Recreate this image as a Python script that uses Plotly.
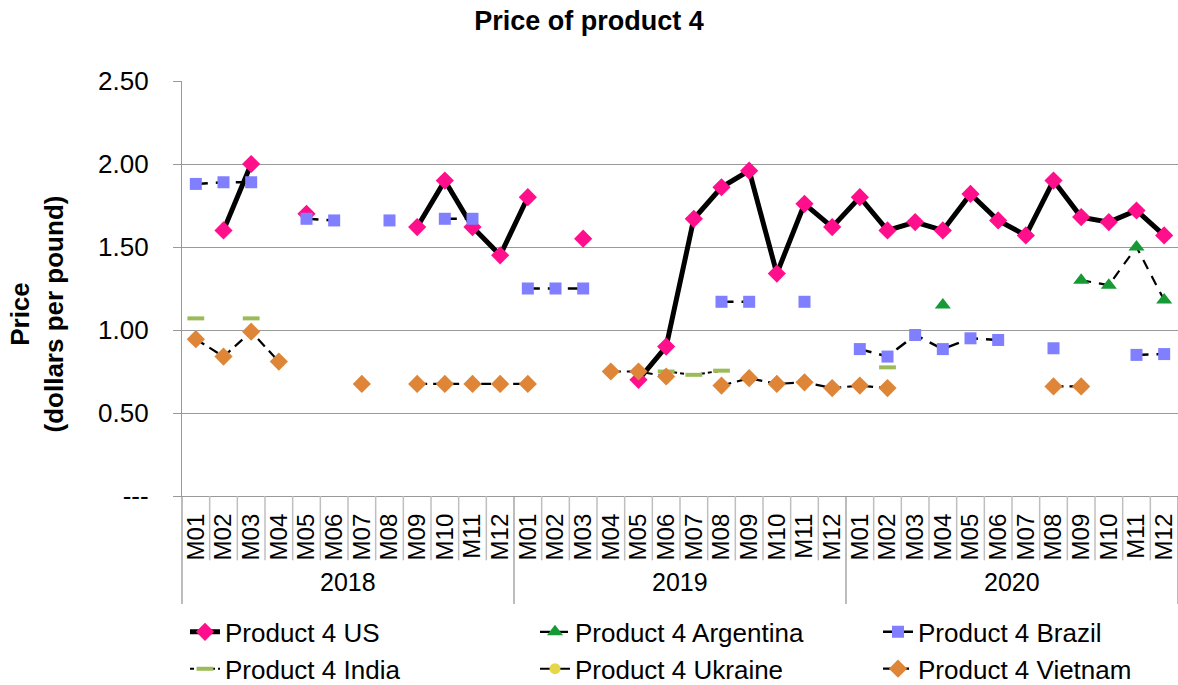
import plotly.graph_objects as go

years = ["2018", "2019", "2020"]
months = ["M01", "M02", "M03", "M04", "M05", "M06", "M07", "M08", "M09", "M10", "M11", "M12"]

us = [None, 1.60, 2.00, None, 1.70, None, None, None, 1.62, 1.90, 1.62, 1.45,
      1.80, None, 1.55, None, 0.70, 0.90, 1.67, 1.86, 1.96, 1.34, 1.76, 1.62,
      1.80, 1.60, 1.65, 1.60, 1.82, 1.66, 1.57, 1.90, 1.68, 1.65, 1.72, 1.57]
argentina = [None] * 12 + [None] * 12 + \
    [None, None, None, 1.15, None, None, None, None, 1.30, 1.27, 1.50, 1.18]
brazil = [1.88, 1.89, 1.89, None, 1.67, 1.66, None, 1.66, None, 1.67, 1.67, None,
          1.25, 1.25, 1.25, None, None, None, None, 1.17, 1.17, None, 1.17, None,
          0.885, 0.84, 0.97, 0.885, 0.95, 0.94, None, 0.89, None, None, 0.85, 0.855]
india = [1.07, None, 1.07, None, None, None, None, None, None, None, None, None,
         None, None, None, None, None, 0.75, 0.73, 0.755, None, None, None, None,
         None, 0.775, None, None, None, None, None, None, None, None, None, None]
ukraine = [None] * 36
vietnam = [0.945, 0.84, 0.99, 0.81, None, None, 0.675, None, 0.675, 0.675, 0.675, 0.675,
           0.675, None, None, 0.75, 0.75, 0.72, None, 0.665, 0.71, 0.675, 0.685, 0.65,
           0.665, 0.65, None, None, None, None, None, 0.66, 0.66, None, None, None]

y_tickvals = [0, 0.5, 1.0, 1.5, 2.0, 2.5]
y_ticktext = ["---", "0.50", "1.00", "1.50", "2.00", "2.50"]

FONT = "Liberation Sans, Arial, sans-serif"
x = list(range(len(us)))
ticklabels = months * len(years)

fig = go.Figure()

fig.add_trace(go.Scatter(x=x, y=us, name="Product 4 US", mode="lines+markers", legend="legend",
                         line=dict(color="black", width=5),
                         marker=dict(symbol="diamond", size=14, color="#FF0F8C")))
fig.add_trace(go.Scatter(x=x, y=argentina, name="Product 4 Argentina", mode="lines+markers", legend="legend2",
                         line=dict(color="black", width=2.2, dash="10px,8px"),
                         marker=dict(symbol="triangle-up", size=14, color="#159A35")))
fig.add_trace(go.Scatter(x=x, y=brazil, name="Product 4 Brazil", mode="lines+markers", legend="legend3",
                         line=dict(color="black", width=2.5, dash="12px,8px"),
                         marker=dict(symbol="square", size=12, color="#7F7FFF")))
fig.add_trace(go.Scatter(x=x, y=india, name="Product 4 India", mode="lines+markers", legend="legend",
                         line=dict(color="black", width=2, dash="4px,3px"),
                         marker=dict(symbol="line-ew", size=12, color="#9BBB59",
                                     line=dict(color="#9BBB59", width=4))))
fig.add_trace(go.Scatter(x=x, y=ukraine, name="Product 4 Ukraine", mode="lines+markers", legend="legend2",
                         line=dict(color="black", width=2),
                         marker=dict(symbol="circle", size=11, color="#E6D64A")))
fig.add_trace(go.Scatter(x=x, y=vietnam, name="Product 4 Vietnam", mode="lines+markers", legend="legend3",
                         line=dict(color="black", width=2.2, dash="10px,6px"),
                         marker=dict(symbol="diamond", size=14, color="#DE8538")))

shapes = []
n = len(x)
for i in range(n + 1):
    is_year = (i % 12 == 0)
    shapes.append(dict(type="line", xref="paper", yref="paper",
                       x0=i / n, x1=i / n, y0=0, y1=-0.26 if is_year else -0.155,
                       line=dict(color="#999999" if is_year else "#BFBFBF", width=1.3 if is_year else 1.5)))

annotations = []
for k, yr in enumerate(years):
    annotations.append(dict(x=12 * k + 5.5, xref="x", y=-0.207, yref="paper",
                            text=yr, showarrow=False, yanchor="middle",
                            font=dict(size=25, color="black", family=FONT)))
annotations.append(dict(x=-0.1451, xref="paper", y=0.4386, yref="paper",
                        text="<b>Price</b><br><b>(dollars per pound)</b>", textangle=-90,
                        showarrow=False, xanchor="center", yanchor="middle",
                        font=dict(size=26, color="black", family=FONT)))

leg_common = dict(orientation="v", xanchor="left", y=-0.271, yanchor="top",
                  font=dict(size=26, family=FONT, color="black"), bgcolor="rgba(0,0,0,0)")

fig.update_layout(
    template="none",
    width=1178, height=685,
    margin=dict(l=182, r=0, t=81, b=189, autoexpand=False),
    paper_bgcolor="white", plot_bgcolor="white",
    font=dict(family=FONT, color="black", size=25),
    title=dict(text="<b>Price of product 4</b>", x=0.5, xref="container", xanchor="center",
               y=1 - 21 / 685, yref="container", yanchor="middle",
               font=dict(size=27, family=FONT, color="black")),
    xaxis=dict(range=[-0.5, n - 0.5], tickmode="array", tickvals=x, ticktext=ticklabels,
               tickangle=-90, ticks="", showgrid=False, zeroline=False, automargin=False,
               showline=True, linecolor="#999999", linewidth=1.3,
               tickfont=dict(size=24, family=FONT, color="black"), ticklabelstandoff=7),
    yaxis=dict(range=[0, 2.5], tickmode="array", tickvals=y_tickvals, ticktext=y_ticktext,
               ticks="outside", ticklen=8, tickcolor="#999999", tickwidth=1.3, automargin=False,
               showgrid=True, gridcolor="#999999", gridwidth=1.3, zeroline=False,
               showline=True, linecolor="#999999", linewidth=1.3,
               tickfont=dict(size=26, family=FONT, color="black"), ticklabelstandoff=19),
    legend=dict(x=0.003, **leg_common),
    legend2=dict(x=0.3544, **leg_common),
    legend3=dict(x=0.6988, **leg_common),
    shapes=shapes,
    annotations=annotations,
    showlegend=True,
)

fig.write_html("out.html")
